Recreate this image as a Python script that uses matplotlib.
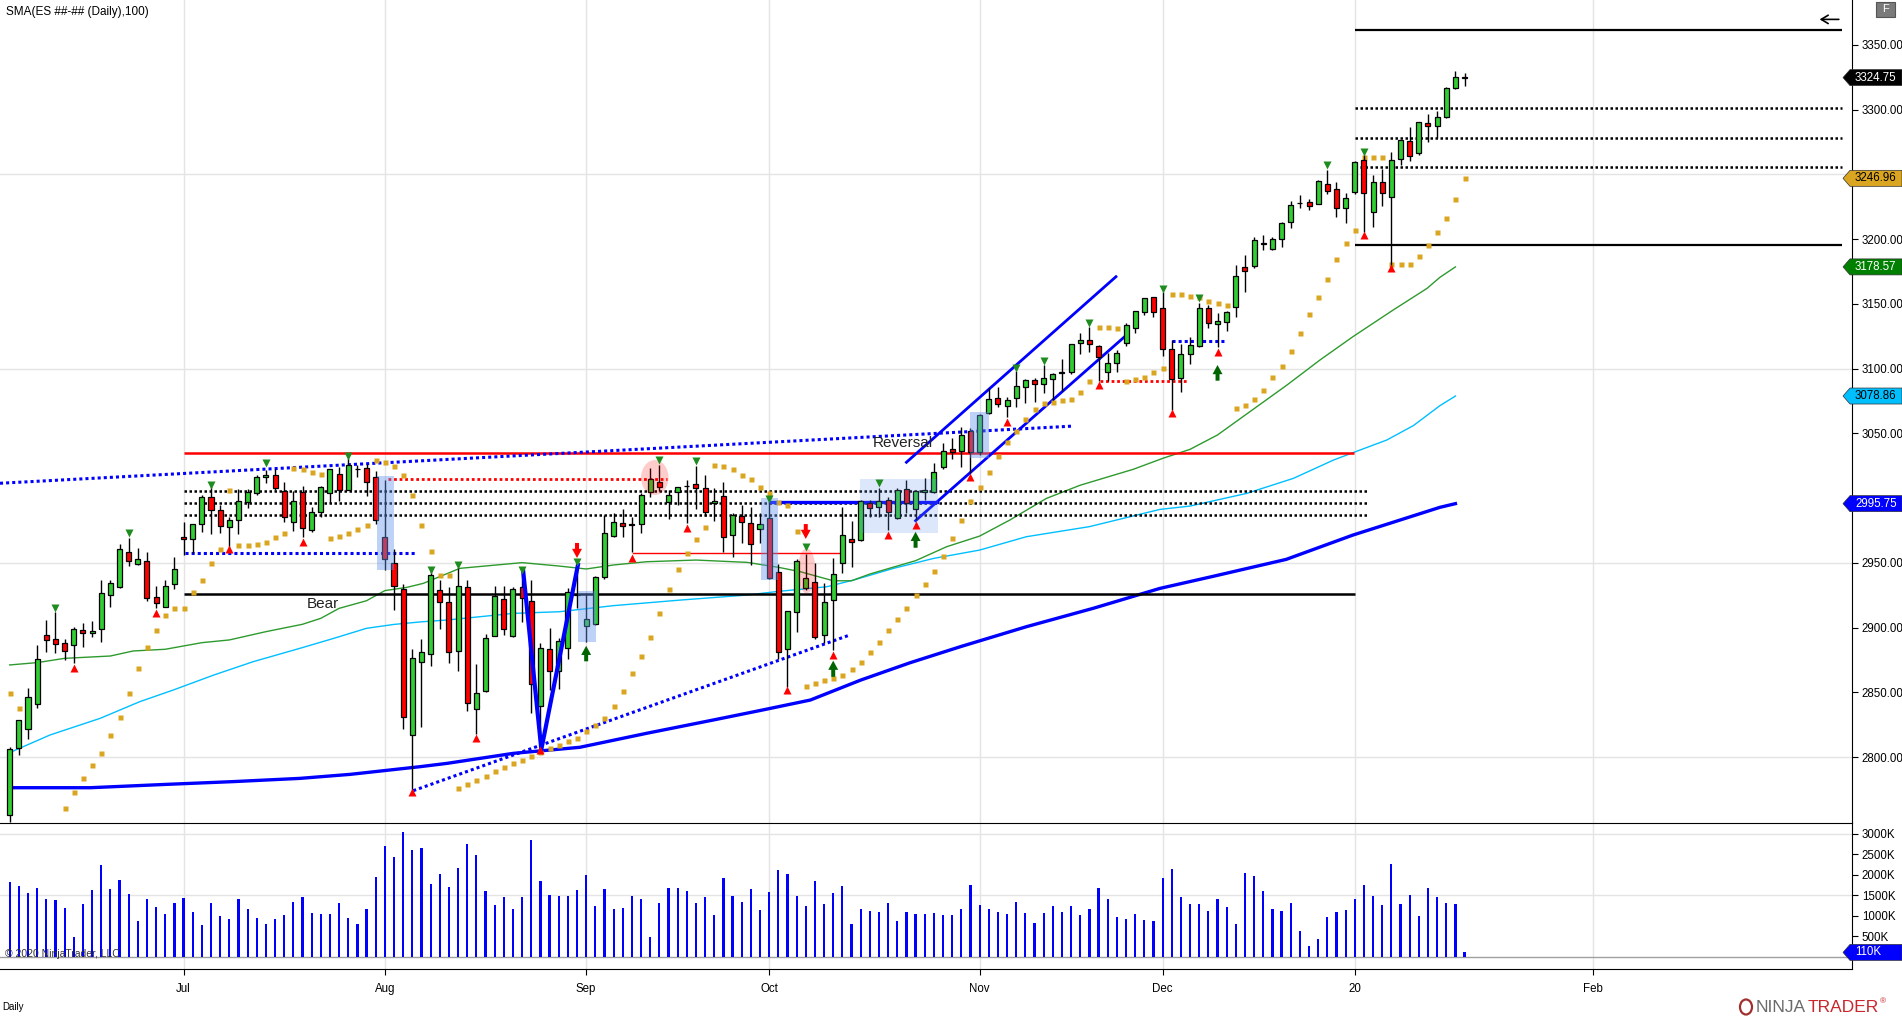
import numpy as np
import matplotlib
matplotlib.use("Agg")
import matplotlib.pyplot as plt
from matplotlib.patches import Rectangle, Ellipse, Polygon
from matplotlib.transforms import IdentityTransform

plt.rcParams['font.family'] = ['Liberation Sans', 'DejaVu Sans']

# ---- daily ES bars, index 0 = early June 2019 ----
opens = [2755, 2806.8, 2821.5, 2840.8, 2894.1, 2890.9, 2888.1, 2886.3, 2897.9, 2895.6,
         2898.7, 2924.9, 2931.1, 2958.2, 2948.9, 2951.2, 2923.4, 2915.7, 2933.4, 2970.2,
         2968.2, 2979.8, 3001.1, 2991.1, 2978, 2982.9, 2996.8, 3003.7, 3016.1, 3017.6,
         3005.8, 2981.3, 3004.5, 2975.4, 2989, 3003.7, 3018.4, 3006.3, 3022.2, 3023,
         3016.6, 2970.2, 2950.3, 2929.7, 2816.8, 2873.7, 2879.4, 2928.8, 2919.5, 2882.2,
         2931.6, 2836.9, 2851.3, 2893.5, 2921.9, 2893.8, 2931.6, 2920.8, 2839.8, 2883.2,
         2866.8, 2884, 2925, 2901.5, 2902.8, 2938.8, 2971, 2980.5, 2979.5, 2979.8,
         3004.5, 3012.2, 2997.3, 3004.5, 3009.1, 3010.7, 3007.6, 2996, 3001.7, 2971.3,
         2986.2, 2980.5, 2976.2, 2984.4, 2942.7, 2883.7, 2911.8, 2930.3, 2935, 2894.3,
         2921.3, 2949.6, 2968.4, 2967.4, 2996.5, 2992.9, 2998.5, 2984.9, 3006.8, 2991.8,
         3004.7, 3004.7, 3023.8, 3038.2, 3036.6, 3052, 3035.9, 3065.5, 3077.1, 3071.4,
         3077.6, 3086.1, 3091, 3087.9, 3091.8, 3096.9, 3097.2, 3119.6, 3122.1, 3117.5,
         3097.7, 3104.1, 3119.6, 3131.6, 3144, 3155.1, 3146.6, 3114.9, 3092.5, 3111,
         3117.5, 3146.6, 3134.2, 3135.8, 3147.3, 3178.2, 3179.5, 3196.5, 3192.6, 3199.8,
         3213.5, 3227.6, 3228.4, 3227.4, 3242.3, 3238.4, 3223.8, 3236.7, 3261.1, 3220.7,
         3243.9, 3232.3, 3261.7, 3275.8, 3266.3, 3289.4, 3287.6, 3294.6, 3317, 3325]
highs = [2808, 2829, 2853.1, 2886.6, 2905.6, 2911.8, 2891, 2900.2, 2903.3, 2905,
         2936.5, 2936.5, 2964.6, 2969.5, 2961.2, 2958.7, 2932.2, 2936.8, 2954.8, 2981.6,
         2979.8, 3002.4, 3011.2, 2994.7, 2985.4, 3007.3, 3007.3, 3017.6, 3021.7, 3022.2,
         3012.7, 3005.8, 3009.6, 2992.9, 3009, 3022.2, 3024.3, 3030.7, 3025.6, 3026.4,
         3021.2, 3014, 2960.5, 2933.5, 2883.5, 2891.2, 2946.6, 2937, 2931.4, 2947.1,
         2936.8, 2871.9, 2895.1, 2932.2, 2932.2, 2931.6, 2944.5, 2936.8, 2888.4, 2899.5,
         2891.7, 2930.3, 2948, 2926.5, 2939.6, 2987, 2988.3, 2991.4, 2985.7, 3004,
         3023, 3025.6, 3006.3, 3008.9, 3014, 3024.8, 3017.9, 3007.6, 3012.7, 2988.3,
         2994.7, 2993.4, 2988.3, 2997.2, 2949.1, 2913.1, 2952.7, 2957, 2949.6, 2934.2,
         2953.5, 2992.9, 2982.3, 2998.5, 2998.5, 3007.5, 3000.6, 3007.5, 3014, 3005.7,
         3015.3, 3026.8, 3042.3, 3046.1, 3054.6, 3054, 3065, 3084.8, 3085.6, 3078.4,
         3098.2, 3092, 3092.5, 3102.8, 3096.4, 3107.2, 3119.1, 3127.8, 3132.4, 3118.3,
         3112.3, 3114.4, 3135, 3144.5, 3154.3, 3155.1, 3159.4, 3122.1, 3119, 3124.7,
         3150.9, 3149.2, 3143.2, 3144.5, 3180, 3187.7, 3201.9, 3202.9, 3201.9, 3213,
         3229.4, 3234.1, 3231, 3245.5, 3253.4, 3244.2, 3235.4, 3260.6, 3265, 3249.6,
         3254.2, 3267.1, 3276.6, 3286.4, 3290.2, 3296.7, 3299, 3317.8, 3329.9, 3328]
lows = [2750, 2801.4, 2813.8, 2838.2, 2880.9, 2880.2, 2875, 2873, 2884.8, 2892.5,
        2889.2, 2915.7, 2930.4, 2947.9, 2948.4, 2920.3, 2914.9, 2915.7, 2930.1, 2956.1,
        2957.9, 2974.1, 2972.1, 2973.3, 2962.5, 2972.1, 2992.6, 3002.4, 3011.4, 3006.3,
        2981.3, 2974.9, 2970.2, 2974.1, 2985.7, 2996, 2997.8, 3006.3, 3016.1, 3001.9,
        2980, 2944.5, 2913.8, 2821.5, 2775, 2823.5, 2870.6, 2898.9, 2872.9, 2866.8,
        2835.9, 2817.6, 2850, 2893.5, 2894.3, 2893, 2904.6, 2834.3, 2805.5, 2851.8,
        2852.4, 2875.5, 2915, 2888.6, 2902, 2937.3, 2970.2, 2969.7, 2958.7, 2972.8,
        3001.2, 3005.8, 2983.6, 2994.7, 2980.5, 2991.4, 2986, 2982.6, 2958.7, 2954.3,
        2965.1, 2948.4, 2965.1, 2937.3, 2875.5, 2854.4, 2896.9, 2929, 2891.2, 2888.4,
        2882.7, 2941.9, 2947.1, 2967.1, 2985.1, 2985.7, 2975.4, 2984.1, 2988.7, 2983.1,
        2998.5, 3003.7, 3022.7, 3029.9, 3023.7, 3019.1, 3033.3, 3065, 3070.1, 3062.9,
        3070.7, 3073.8, 3074.5, 3081.5, 3075.8, 3083, 3095.9, 3111.3, 3113.1, 3090.7,
        3090.7, 3097.7, 3117.5, 3127.8, 3141.4, 3139.6, 3110, 3068.1, 3082.2, 3103.6,
        3117, 3131.6, 3116.5, 3129.3, 3140.1, 3159.4, 3177.4, 3191.6, 3191.6, 3194.2,
        3208.8, 3224.3, 3222.5, 3227, 3235, 3217.4, 3212.7, 3234.9, 3205.8, 3209.1,
        3225.9, 3177.5, 3257.3, 3260.6, 3265, 3275.3, 3277.9, 3293.8, 3316, 3318.5]
closes = [2806, 2828.4, 2846.2, 2875.5, 2890.2, 2887.6, 2881.7, 2898.7, 2895.6, 2897.1,
          2926.5, 2934.2, 2960.5, 2951.2, 2953, 2922.6, 2918.8, 2931.9, 2945, 2968.2,
          2979.8, 3000.6, 2991.1, 2978.8, 2982.9, 2998.1, 3004.5, 3016.1, 3017.6, 3007.6,
          2985.2, 2998.1, 2977.2, 2989.6, 3008.4, 3022.2, 3006.3, 3025.6, 3022.5, 3012.7,
          2983.1, 2953, 2932.5, 2830.7, 2876.3, 2880.9, 2940.4, 2920.1, 2880.9, 2932.4,
          2841.5, 2849.3, 2891.7, 2924.2, 2898.7, 2929.6, 2922.6, 2856.5, 2884, 2866.5,
          2889.9, 2927.3, 2925.5, 2906.5, 2938.8, 2972.8, 2981.3, 2978.7, 2979.6, 3002.4,
          3014.8, 3008.9, 3002.5, 3008.4, 3009.3, 3008.1, 2989.6, 2997.8, 2970.2, 2986.7,
          2981.3, 2964.3, 2979.8, 2938, 2880.9, 2912.6, 2951.4, 2938, 2893, 2919.5,
          2941.1, 2971.3, 2966.1, 2997.5, 2992.1, 2998, 2989.3, 3006.5, 2996, 3005.7,
          3006.5, 3020.4, 3036.6, 3035.8, 3048.5, 3035.8, 3064.2, 3076.5, 3072.5, 3075.8,
          3086.6, 3091.3, 3087.9, 3092.5, 3095.6, 3097.2, 3119.1, 3122.1, 3118.8, 3109.3,
          3104.1, 3111.8, 3133.5, 3144.5, 3154.3, 3144, 3114.9, 3091.8, 3111, 3118,
          3146.6, 3135, 3136.5, 3143.7, 3171.5, 3175.6, 3199.1, 3196.8, 3199.8, 3212.2,
          3226.1, 3227.8, 3225.8, 3244.9, 3237.4, 3223.7, 3231.5, 3259.3, 3235.4, 3243.9,
          3235.4, 3261.1, 3276.6, 3264.5, 3290.2, 3287.6, 3294.1, 3316.5, 3325, 3324.75]
volume_k = [1823, 1726, 1557, 1677, 1411, 1387, 1194, 492, 1290, 1629,
            2234, 1653, 1871, 1532, 879, 1411, 1218, 1048, 1315, 1436,
            1097, 782, 1315, 1000, 927, 1411, 1169, 952, 806, 927,
            1024, 1339, 1460, 1073, 1048, 1048, 1315, 952, 806, 1169,
            1944, 2718, 2428, 3057, 2597, 2669, 1774, 2016, 1702, 2161,
            2766, 2476, 1605, 1266, 1460, 1169, 1460, 2863, 1847, 1508,
            1484, 1484, 1629, 1992, 1242, 1653, 1169, 1194, 1484, 1411,
            492, 1315, 1677, 1677, 1605, 1315, 1460, 1024, 1919, 1484,
            1339, 1653, 1145, 1581, 2113, 2016, 1484, 1242, 1847, 1290,
            1557, 1726, 806, 1169, 1121, 1097, 1315, 879, 1097, 1048,
            1048, 1073, 1024, 1024, 1169, 1750, 1266, 1169, 1097, 1048,
            1339, 1073, 831, 1073, 1242, 1097, 1242, 1024, 1169, 1677,
            1411, 976, 927, 1048, 903, 879, 1919, 2137, 1460, 1290,
            1290, 1121, 1411, 1218, 806, 2040, 1968, 1605, 1169, 1121,
            1315, 637, 274, 444, 976, 1097, 1145, 1411, 1750, 1484,
            1266, 2260, 1290, 1508, 1000, 1677, 1460, 1315, 1290, 110]
nan = np.nan
sar = [2849.8, 2838.2, nan, nan, nan, nan, 2761, 2773.3, 2784.2, 2793.9,
       2803.5, 2817.1, 2831.3, 2849.8, 2868.8, 2885, 2898.2, 2910, 2914.9, 2915.4,
       2927.3, 2936.8, 2949.9, 2961, 3006.3, 2963.8, 2963.8, 2964.8, 2966.4, 2970.3,
       2973.1, 3023.5, 3022.5, 3019.9, 3018.9, 2969.5, 2970.8, 2973.1, 2976.2, 2979.3,
       3029.5, 3027.9, 3025.1, 3018.1, 3002.6, 2979.3, 2959.4, 2940.6, 2940.6, 2776.4,
       2779.2, 2782.3, 2785.4, 2789.3, 2792.4, 2795.5, 2797.8, 2800.9, 2804.2, 2807.3,
       2809.6, 2812.5, 2815, 2820.4, 2824.8, 2830.5, 2839.5, 2851.3, 2865.2, 2878.3,
       2893, 2911.6, 2929.8, 2945.3, 2957.9, 2968.4, 2978, 3025.6, 3024.8, 3022.8,
       3017.9, 3014.6, 3008.9, 3004.3, 2997.2, 2994.7, 2974.9, 2855, 2857.5, 2859.5,
       2861.3, 2863.4, 2868.3, 2873.7, 2881.4, 2889.1, 2898.1, 2906.6, 2915.4, 2925.2,
       2933.9, 2943.7, 2955.5, 2969.4, 2983.1, 2998, 3008.8, 3020.4, 3032.6, 3043.6,
       3051.9, 3061.4, 3068.6, 3073.2, 3074.5, 3076.1, 3076.3, 3082.3, 3090.7, 3132,
       3132, 3131.6, 3090.7, 3091.7, 3093.8, 3097.7, 3100.8, 3157.9, 3157.9, 3156.4,
       3155.6, 3152.5, 3151, 3149.4, 3069.9, 3072.2, 3076.8, 3083.8, 3093.8, 3102,
       3113.9, 3127.8, 3142.5, 3155.6, 3169.3, 3184.6, 3197.3, 3207.1, 3263.7, 3263.7,
       3263.7, 3180.8, 3180.8, 3180.8, 3187, 3195.8, 3205.5, 3216.6, 3231, 3246.96]

# moving averages (bar index, price)
sma_green_x = [0, 3, 6, 11, 13.5, 17, 21, 24, 28, 32, 34, 36, 39, 41, 43.4, 45.2, 49.2, 56, 60, 63,
               66, 69.6, 75, 80.6, 84, 86.4, 90, 92, 94, 99, 102.4, 106, 109.3, 113.3, 117,
               122.8, 126, 129, 132, 135.9, 139.6, 143.2, 146.8, 151.2, 154.9, 156.3, 158]
sma_green_y = [2871.2, 2873, 2876.3, 2878.1, 2882, 2883.3, 2888.4, 2890.5, 2896.9, 2902.6, 2907.2,
               2914.9, 2920.8, 2928.6, 2931.1, 2934.2, 2945.8, 2950.2, 2947.6, 2945.3, 2948.4,
               2950.9, 2952.2, 2950.4, 2946.6, 2943.2, 2936.2, 2936.2, 2941.4, 2951.7, 2962.5,
               2970.7, 2983.1, 2999.8, 3010, 3022.3, 3030.7, 3037.7, 3048.8, 3068.6, 3087.4,
               3106.7, 3124.7, 3145.3, 3162, 3170.5, 3178.57]
sma_cyan_x = [0, 4.4, 9.9, 14.2, 17.9, 22.3, 26.6, 31.7, 35.4, 39, 42, 45, 47.8, 55, 60.1, 66, 73.3,
              80.6, 84, 89.3, 92.2, 96.6, 101, 106, 111.1, 118, 125.7, 129, 135.2, 140.3, 144.7,
              146.8, 150.5, 153.4, 156.3, 158]
sma_cyan_y = [2803.5, 2817.1, 2830, 2842.8, 2851.9, 2863.4, 2873.7, 2884, 2891.7, 2899.5, 2902.5,
              2904.5, 2905.9, 2911, 2912.3, 2917, 2921.3, 2925.2, 2928, 2931.6, 2936.7, 2945.8,
              2953.5, 2959.9, 2970.2, 2978, 2991.3, 2993.9, 3003.7, 3015.3, 3029.5, 3035.1,
              3044.9, 3056, 3071.4, 3078.86]
sma_blue_x = [0, 8.8, 17.2, 24.4, 31.7, 37.2, 44.8, 47.8, 55, 62.3, 69.6, 76.9, 82, 87.5, 93, 98.4,
              103.9, 111.1, 118.4, 125.7, 131.5, 139.5, 146.8, 156.3, 158]
sma_blue_y = [2776.4, 2776.4, 2779, 2781.1, 2783.6, 2786.7, 2792.6, 2795.2, 2802.9, 2807.6, 2818.4,
              2828.7, 2836, 2844.1, 2859.5, 2872.9, 2885.3, 2900.7, 2914.9, 2930.3, 2939.6,
              2952.7, 2971.5, 2992.9, 2995.75]

# swing markers
swing_low_x = [7, 16, 24, 32, 44, 51, 58, 68, 74, 85, 90, 96, 99, 105, 109, 119, 127, 132, 148, 151]
swing_low_y = [2868.6, 2911, 2960.5, 2966.4, 2773.3, 2814.5, 2805.5, 2953.5, 2977.2, 2851.8, 2878.8,
               2971.2, 2979, 3016.5, 3059.1, 3087.4, 3066, 3113.1, 3203.2, 3177.5]
swing_high_x = [5, 13, 22, 28, 37, 46, 49, 56, 62, 71, 75, 83, 87, 95, 110, 113, 118, 126, 130, 144, 148]
swing_high_y = [2914.9, 2972.8, 3010.2, 3026.9, 3032.5, 2944.5, 2948.4, 2944.5, 2951, 3029.5, 3028.7,
                2999, 2962.5, 3011.4, 3100.3, 3106.2, 3135.5, 3161.3, 3154.3, 3257.2, 3267.6]
sell_arrows = [(62, 2953.8, 2965.4), (87, 2968.5, 2980)]
buy_arrows = [(63, 2886, 2874), (90, 2874.5, 2862), (99, 2974, 2961.7), (132, 3102.8, 3090.7)]

month_pos = [19, 41, 63, 83, 106, 126, 147, 173]
month_lbl = ['Jul', 'Aug', 'Sep', 'Oct', 'Nov', 'Dec', '20', 'Feb']
tag_vals = [3324.75, 3246.96, 3178.57, 3078.86, 2995.75]

W, H = 1902, 1016
fig = plt.figure(figsize=(W / 100, H / 100), dpi=100)
ax = fig.add_axes([0, (H - 823) / H, 1852 / W, 823 / H])
axv = fig.add_axes([0, (H - 969) / H, 1852 / W, (969 - 823) / H], sharex=ax)

idx = np.arange(len(closes))
o = np.array(opens); c = np.array(closes)
ax.set_xlim(-1.06, 201.34)
ax.set_ylim(2749.15, 3384.67)
axv.set_ylim(-295, 3268)

grid = '#e4e4e4'
for m in month_pos:
    ax.axvline(m, color=grid, lw=1, zorder=0)
    axv.axvline(m, color=grid, lw=1, zorder=0)
for p in [2800, 2950, 3100, 3250]:
    ax.axhline(p, color=grid, lw=1, zorder=0)
for v in [1500, 3000]:
    axv.axhline(v, color=grid, lw=1, zorder=0)
axv.axhline(0, color='#a0a0a0', lw=1, zorder=0)

# moving averages
ax.plot(sma_blue_x, sma_blue_y, color='#0000ff', lw=2.4, zorder=2)
ax.plot(sma_cyan_x, sma_cyan_y, color='#00bfff', lw=1, zorder=2)
ax.plot(sma_green_x, sma_green_y, color='#2e9a2e', lw=1, zorder=2)

# drawn levels
dot = (0, (1, 1))
ax.hlines(3035.2, 19, 146.9, color='red', lw=1.8, zorder=2)
ax.hlines(2926, 19, 147, color='black', lw=1.8, zorder=2)
ax.hlines([3005.8, 2996.5, 2987.3], 19, 148.3, color='black', lw=1.8, linestyles=[dot], zorder=2)
ax.hlines([3361.3, 3195.5], 147, 200.2, color='black', lw=1.6, zorder=2)
ax.hlines([3301.5, 3278.4, 3256], 147, 200.2, color='black', lw=1.8, linestyles=[dot], zorder=2)
ax.plot([-1.06, 116.1], [3011.5, 3055.6], color='#0000ff', lw=2.2, ls=dot, zorder=2)
ax.plot([44.1, 91.6], [2774.1, 2893.8], color='#0000ff', lw=2.2, ls=dot, zorder=2)
ax.plot([19.2, 44.3], [2957.9, 2957.9], color='#0000ff', lw=2.2, ls=dot, zorder=2)
ax.plot([127, 132.8], [3121.6, 3121.6], color='#0000ff', lw=2.2, ls=dot, zorder=2)
ax.plot([41.3, 71.8], [3015, 3015], color='red', lw=2, ls=dot, zorder=2)
ax.plot([119.2, 128.8], [3090.7, 3090.7], color='red', lw=2, ls=dot, zorder=2)
ax.plot([68.1, 91], [2957.6, 2957.6], color='red', lw=1, zorder=2)
ax.plot([83.1, 101.3], [2997.3, 2997.3], color='#0000ff', lw=2.4, zorder=2)
ax.plot([98.0, 120.9], [3027.7, 3171], color='#0000ff', lw=2, zorder=2)
ax.plot([99.0, 121.9], [2982.6, 3125], color='#0000ff', lw=2, zorder=2)
ax.plot([56.1, 58.1, 62.1], [2945, 2806, 2948.4], color='#0000ff', lw=3, zorder=5)

# SAR dots
ax.plot(idx, sar, 's', color='#daa520', ms=3.6, mec='none', zorder=3)

# candles
ax.vlines(idx, lows, highs, color='black', lw=1, zorder=4)
body = np.maximum(np.abs(c - o), 0.3)
ax.bar(idx, body, bottom=np.minimum(o, c), width=0.55,
       color=np.where(c >= o, '#32cd32', '#ff0000'), edgecolor='black', linewidth=0.9, zorder=4)

# highlight boxes and circles
for x0, x1, y0, y1, a in [(40.1, 42.0, 2944.5, 3017.1, 0.42), (62.1, 64.1, 2888.6, 2928.5, 0.42),
                          (82.1, 84.0, 2936.8, 3000, 0.42), (92.9, 101.4, 2973.3, 3014.5, 0.22),
                          (105.0, 107.0, 3030.8, 3066.8, 0.42)]:
    ax.add_patch(Rectangle((x0, y0), x1 - x0, y1 - y0, facecolor='#6495ed', alpha=a,
                           edgecolor='none', zorder=5))
ax.add_patch(Ellipse((70.5, 3015.9), 3.0, 27, facecolor='red', alpha=0.2, edgecolor='none', zorder=5))
ax.add_patch(Ellipse((87.1, 2943.8), 1.95, 34.7, facecolor='red', alpha=0.2, edgecolor='none', zorder=5))

ax.plot(swing_low_x, swing_low_y, '^', color='#ff0000', ms=6, mec='none', zorder=6)
ax.plot(swing_high_x, swing_high_y, 'v', color='#1e8c1e', ms=6, mec='none', zorder=6)
astyle = 'simple,head_length=0.6,head_width=0.65,tail_width=0.26'
for i, tip, base in sell_arrows:
    ax.annotate('', xy=(i, tip), xytext=(i, base), zorder=6,
                arrowprops=dict(arrowstyle=astyle, fc='#ff0000', ec='none', shrinkA=0, shrinkB=0, mutation_scale=11))
for i, tip, base in buy_arrows:
    ax.annotate('', xy=(i, tip), xytext=(i, base), zorder=6,
                arrowprops=dict(arrowstyle=astyle, fc='#006400', ec='none', shrinkA=0, shrinkB=0, mutation_scale=11))
ax.annotate('', xy=(197.8, 3369.7), xytext=(199.9, 3369.7), annotation_clip=False,
            arrowprops=dict(arrowstyle='->,head_length=0.5,head_width=0.3', color='black', lw=1.2,
                            shrinkA=0, shrinkB=0))

ax.text(32.5, 2918, 'Bear', fontsize=11, va='center', ha='left', color='#222222', zorder=7)
ax.text(94.3, 3042.3, 'Reversal', fontsize=11, va='center', ha='left', color='#222222', zorder=7)

# volume
axv.bar(idx, volume_k, width=0.24, color='#0000ff', zorder=3)

# axes styling
for a in (ax, axv):
    a.yaxis.tick_right()
    a.spines['left'].set_visible(False)
    a.spines['right'].set_color('black')
    a.tick_params(axis='y', direction='out', length=4, pad=3, labelsize=8.3, colors='black')
ax.spines['top'].set_visible(False)
ax.spines['bottom'].set_visible(False)
price_ticks = np.arange(2800, 3351, 50)
ax.set_yticks(price_ticks)
# labels sitting under a value tag are hidden by it, as on the original
ax.set_yticklabels(['' if min(abs(v - t) for t in tag_vals) < 6 else f'{v:.2f}' for v in price_ticks])
ax.tick_params(axis='x', length=0, labelbottom=False)
axv.set_yticks(np.arange(500, 3001, 500))
axv.set_yticklabels([f'{v}K' for v in np.arange(500, 3001, 500)])
axv.set_xticks(month_pos)
axv.set_xticklabels(month_lbl)
axv.tick_params(axis='x', length=4, pad=6, labelsize=8.3)

fig.text(6 / W, 1 - 12 / H, 'SMA(ES ##-## (Daily),100)', fontsize=8.5, va='center')
fig.text(5 / W, 1 - 954 / H, '\u00a9 2020 NinjaTrader, LLC', fontsize=7.5, va='center', color='#333333', zorder=8)
fig.text(2 / W, 1 - 1007 / H, 'Daily', fontsize=7, va='center')

# value tags on the price scale
def tag(a, val, txt, fc, tc):
    y = a.transData.transform((0, val))[1]
    xr = a.transAxes.transform((1, 0))[0]
    pts = [(xr - 9, y), (xr - 2, y + 8), (W, y + 8), (W, y - 8), (xr - 2, y - 8)]
    fig.patches.append(Polygon(pts, closed=True, transform=IdentityTransform(), facecolor=fc,
                               edgecolor='#333333', lw=0.5, zorder=10, figure=fig))
    fig.text((xr + 3) / W, y / H, txt, fontsize=8.3, color=tc, va='center', ha='left', zorder=11)

tag_style = [('black', 'white'), ('#daa520', 'black'), ('#008000', 'white'),
             ('#00bfff', 'black'), ('#0000ff', 'white')]
for v, (fc, tc) in zip(tag_vals, tag_style):
    tag(ax, v, f'{v:.2f}', fc, tc)
tag(axv, volume_k[-1], f'{volume_k[-1]}K', '#0000ff', 'white')

# F button and logo
fig.patches.append(Rectangle((1876, H - 17), 19, 15, transform=IdentityTransform(), facecolor='#7a7a7a',
                             edgecolor='#555555', lw=0.8, figure=fig))
fig.text(1885.5 / W, (H - 9.5) / H, 'F', fontsize=8, color='white', ha='center', va='center')
fig.patches.append(Ellipse((1746, H - 1007), 12, 15, transform=IdentityTransform(), facecolor='none',
                           edgecolor='#a03030', lw=1.6, figure=fig))
rend = fig.canvas.get_renderer()
t1 = fig.text(1756 / W, 1 - 1007 / H, 'NINJA', fontsize=12.5, color='#6a6a6a', va='center')
x1 = t1.get_window_extent(rend).x1
t2 = fig.text((x1 + 1) / W, 1 - 1007 / H, 'TRADER', fontsize=12.5, color='#c8262c', va='center')
x2 = t2.get_window_extent(rend).x1
fig.text((x2 + 1) / W, 1 - 1002 / H, '\u00ae', fontsize=6, color='#c8262c', va='center')

fig.savefig('out.png', dpi=100)
